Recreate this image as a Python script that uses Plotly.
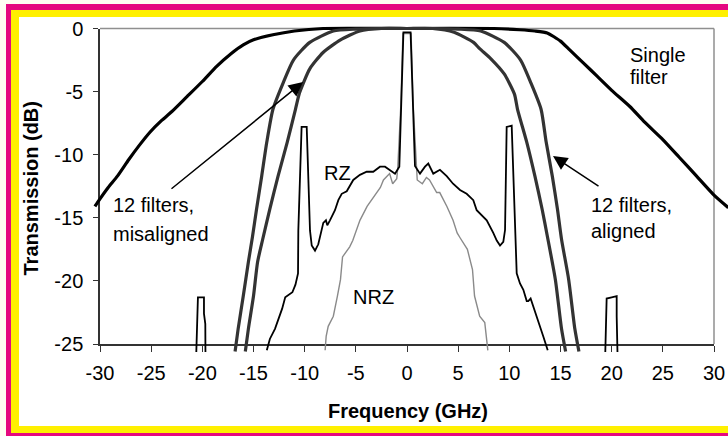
import plotly.graph_objects as go

# ---------------------------------------------------------------------------
# Data: transmission (dB) versus frequency offset (GHz)
# ---------------------------------------------------------------------------
x_ticks = [-30, -25, -20, -15, -10, -5, 0, 5, 10, 15, 20, 25, 30]
x_tick_labels = ["-30", "-25", "-20", "-15", "-10", "-5", "0",
                 "5", "10", "15", "20", "25", "30"]
y_ticks = [0, -5, -10, -15, -20, -25]
y_tick_labels = ["0", "-5", "-10", "-15", "-20", "-25"]

# Single filter response
single_f = [-30.5, -30.0, -29.2, -28.3, -27.2, -26.2, -25.1, -24.0, -23.0,
            -21.5, -20.0, -18.6, -17.2, -16.0, -15.0, -13.1, -11.0, -8.2,
            0.0, 8.5, 11.0, 12.5, 13.7, 15.0, 15.9, 17.2, 18.6, 20.0, 21.8,
            23.2, 25.0, 26.6, 28.3, 30.0, 31.4]
single_db = [-14.1, -13.5, -12.6, -11.7, -10.4, -9.3, -8.2, -7.3, -6.6,
             -5.4, -4.2, -3.0, -2.0, -1.3, -0.9, -0.5, -0.2, 0.0,
             0.0, 0.0, -0.1, -0.2, -0.35, -1.0, -1.7, -2.7, -3.8, -4.9, -6.2,
             -7.4, -8.8, -10.2, -11.7, -13.2, -14.2]

# 12 cascaded filters, aligned
aligned_f = [-16.8, -16.5, -16.0, -15.5, -15.1, -14.7, -14.2, -13.7, -13.1,
             -12.1, -11.1, -9.5, -7.2, -5.0, -2.5, 0.0,
             2.5, 5.0, 7.2, 9.5, 11.1, 12.1, 13.1, 13.6, 14.2, 14.7, 15.1,
             15.8, 16.4, 16.8]
aligned_db = [-25.6, -23.8, -21.2, -18.5, -16.5, -14.3, -11.7, -9.0, -6.4,
              -4.3, -2.5, -1.1, -0.2, -0.05, 0.0, 0.0,
              0.0, -0.05, -0.2, -1.1, -2.5, -4.3, -6.4, -9.0, -11.7, -14.3,
              -16.7, -19.9, -23.8, -25.6]

# 12 cascaded filters, misaligned
misaligned_f = [-15.8, -15.5, -15.0, -14.6, -14.1, -13.4, -12.6, -11.7, -10.9,
                -10.5, -9.5, -8.2, -6.5, -4.6, -2.5, 0.0,
                2.5, 4.6, 6.5, 7.1, 8.2, 9.5, 10.5, 10.8, 11.7, 12.5, 13.2,
                13.7, 14.5, 15.1, 15.5]
misaligned_db = [-25.6, -23.8, -21.2, -18.5, -16.7, -14.3, -11.7, -9.0, -6.4,
                 -5.1, -3.2, -1.9, -0.9, -0.2, 0.0, 0.0,
                 0.0, -0.3, -1.1, -1.6, -2.4, -3.6, -5.2, -6.4, -9.0, -11.7,
                 -14.3, -16.4, -19.9, -23.8, -25.6]

# RZ signal spectrum (None separates the isolated tones at +/-20 GHz)
rz_f = [-20.62, -20.53, -20.43, -19.84, -19.84, -19.71, -19.69, None,
        -13.7, -13.4, -12.9, -12.5, -12.2, -11.9, -11.6, -11.2, -10.9,
        -10.65, -10.62, -10.5, -10.45, -10.3, -9.8, -9.7, -9.55, -9.48,
        -9.31, -8.99, -8.67, -8.5, -8.34, -8.18, -7.92, -7.79, -7.53, -7.04,
        -6.71, -6.38, -5.89, -5.25, -4.6, -3.94, -3.3, -2.64, -2.15, -1.66,
        -1.17, -0.75, -0.55, -0.35, 0.35, 0.55, 0.78, 1.27, 1.76, 2.08, 2.57,
        3.22, 3.88, 4.5, 5.18, 5.83, 6.48, 6.81, 7.79, 8.43, 8.77, 9.09, 9.41,
        9.58, 9.68, 9.74, 10.23, 10.4, 10.55, 10.72, 11.04, 11.37, 11.7,
        11.85, 12.08, 12.34, 12.83, 13.32, 13.75, None,
        19.35, 19.42, 19.51, 20.0, 20.49, 20.49, 20.59]
rz_db = [-26.5, -23.4, -21.3, -21.3, -22.6, -23.4, -26.5, None,
         -25.5, -24.6, -23.8, -22.9, -22.2, -21.3, -21.1, -20.9, -20.3,
         -19.4, -16.0, -12.5, -10.4, -7.8, -7.8, -10.4, -14.0, -16.0,
         -17.2, -17.6, -17.1, -16.5, -16.0, -15.4, -15.2, -15.6, -15.2, -14.4,
         -13.6, -13.1, -12.9, -12.0, -11.6, -11.35, -11.35, -10.95, -10.95,
         -11.2, -11.5, -10.95, -6.0, -0.3, -0.3, -6.0, -10.9, -11.5, -10.95,
         -10.7, -11.5, -11.2, -11.7, -12.3, -12.8, -13.1, -13.6, -14.4, -15.2,
         -16.2, -16.8, -17.2, -16.9, -15.97, -12.0, -7.8, -7.7, -12.0, -15.97,
         -19.4, -20.2, -20.7, -21.6, -21.6, -21.4, -22.0, -23.3, -24.4, -25.5,
         None,
         -26.5, -23.4, -21.4, -21.3, -21.2, -22.8, -26.5]

# NRZ signal spectrum
nrz_f = [-8.0, -7.9, -7.7, -7.2, -6.8, -6.5, -6.3, -5.6, -5.3, -4.6, -3.9,
         -3.3, -2.6, -2.3, -1.7, -1.4, -1.0, -0.9, -0.6, -0.4, 0.4, 0.6, 0.9,
         1.0, 1.5, 1.9, 2.2, 2.9, 3.2, 3.9, 4.5, 4.9, 5.2, 5.9, 6.4, 6.6, 7.1,
         7.6, 7.9]
nrz_db = [-25.5, -24.4, -23.6, -22.8, -21.2, -19.9, -18.1, -17.3, -16.8,
          -15.2, -14.1, -13.4, -12.6, -12.0, -11.5, -12.3, -11.9, -11.0, -6.0,
          -0.4, -0.4, -6.0, -11.0, -12.0, -12.3, -11.8, -12.0, -13.0, -13.0,
          -14.1, -15.2, -16.2, -16.6, -17.5, -19.1, -21.2, -22.8, -23.3, -25.5]

# ---------------------------------------------------------------------------
# Page geometry (pixels)
# ---------------------------------------------------------------------------
W, H = 728, 436
BOX_L, BOX_R, BOX_T, BOX_B = 100, 714, 28.5, 344      # axes frame
CLIP_L, CLIP_R, CLIP_T, CLIP_B = 93, 728, 24, 352     # curve drawing area
FONT = "Arial, Liberation Sans, Helvetica, sans-serif"


def f_at(px):
    return -30 + (px - BOX_L) * 60.0 / (BOX_R - BOX_L)


def db_at(py):
    return -(py - BOX_T) * 25.0 / (BOX_B - BOX_T)


def xp(px):
    return px / W


def yp(py):
    return 1 - py / H


fig = go.Figure()

# keeps the visible axes alive
fig.add_trace(go.Scatter(x=[None], y=[None], xaxis="x", yaxis="y",
                         showlegend=False, hoverinfo="skip"))

curves = [
    (single_f, single_db, "#000000", 3.2, "Single filter", 0.5),
    (aligned_f, aligned_db, "#333333", 3.2, "12 filters, aligned", 0.6),
    (misaligned_f, misaligned_db, "#333333", 3.2, "12 filters, misaligned", 0.6),
    (nrz_f, nrz_db, "#8a8a8a", 1.4, "NRZ", None),
    (rz_f, rz_db, "#000000", 1.8, "RZ", None),
]
for fx_, fy_, col, wid, name, smooth in curves:
    line = dict(color=col, width=wid)
    if smooth is not None:
        line.update(shape="spline", smoothing=smooth)
    fig.add_trace(go.Scatter(x=fx_, y=fy_, mode="lines", name=name, line=line,
                             xaxis="x2", yaxis="y2", showlegend=False,
                             connectgaps=False))

axis_common = dict(
    showgrid=False, zeroline=False, showline=True, linecolor="#333333",
    linewidth=1.5, ticks="outside", tickcolor="#333333", tickwidth=1.2,
    tickfont=dict(family=FONT, size=20, color="#000000"), fixedrange=True,
    automargin=False,
)

fig.update_layout(
    width=W, height=H,
    margin=dict(l=0, r=0, t=0, b=0, pad=0, autoexpand=False),
    paper_bgcolor="#FFFEF2",
    plot_bgcolor="rgba(0,0,0,0)",
    showlegend=False,
    xaxis=dict(domain=[xp(BOX_L), xp(BOX_R)], range=[-30, 30], anchor="y",
               tickmode="array", tickvals=x_ticks, ticktext=x_tick_labels,
               ticklen=6, ticklabelstandoff=4, **axis_common),
    yaxis=dict(domain=[yp(BOX_B), yp(BOX_T)], range=[-25, 0], anchor="x",
               tickmode="array", tickvals=y_ticks, ticktext=y_tick_labels,
               ticklen=5, ticklabelstandoff=6, **axis_common),
    xaxis2=dict(domain=[xp(CLIP_L), xp(CLIP_R)],
                range=[f_at(CLIP_L), f_at(CLIP_R)], anchor="y2",
                visible=False, fixedrange=True, automargin=False),
    yaxis2=dict(domain=[yp(CLIP_B), yp(CLIP_T)],
                range=[db_at(CLIP_B), db_at(CLIP_T)], anchor="x2",
                visible=False, fixedrange=True, automargin=False),
)

# Frame: magenta and yellow border, white page, grey top/right box lines
shapes = [
    dict(type="rect", x0=xp(6), x1=xp(740), y0=yp(440), y1=yp(4),
         fillcolor="#E5097F", line_width=0),
    dict(type="rect", x0=xp(11), x1=xp(740), y0=yp(433), y1=yp(10),
         fillcolor="#FFF000", line_width=0),
    dict(type="rect", x0=xp(19), x1=xp(740), y0=yp(426), y1=yp(17),
         fillcolor="#FFFFFF", line_width=0),
    dict(type="line", x0=xp(BOX_L), x1=xp(BOX_R), y0=yp(BOX_T), y1=yp(BOX_T),
         line=dict(color="#8f8f8f", width=1.5)),
    dict(type="line", x0=xp(BOX_R), x1=xp(BOX_R), y0=yp(BOX_T), y1=yp(BOX_B),
         line=dict(color="#8f8f8f", width=1.5)),
]
for s in shapes:
    s.update(xref="paper", yref="paper", layer="below")
fig.update_layout(shapes=shapes)

# Labels
labels = [
    ("Single", 628, 54.5),
    ("filter", 628, 77.5),
    ("12 filters,", 111, 204.5),
    ("misaligned", 111, 233.5),
    ("12 filters,", 589, 204.5),
    ("aligned", 589, 231.5),
    ("RZ", 322, 173),
    ("NRZ", 351, 297),
]
annotations = []
for txt, px, py in labels:
    annotations.append(dict(
        text=txt, x=xp(px), y=yp(py), xref="paper", yref="paper",
        xanchor="left", yanchor="middle", showarrow=False,
        font=dict(family=FONT, size=20, color="#000000")))

# axis titles
annotations.append(dict(
    text="<b>Frequency (GHz)</b>", x=xp(407.5), y=yp(411), xref="paper",
    yref="paper", xanchor="center", yanchor="middle", showarrow=False,
    font=dict(family=FONT, size=20, color="#000000")))
annotations.append(dict(
    text="<b>Transmission (dB)</b>", x=xp(30), y=yp(188.5), xref="paper",
    yref="paper", xanchor="center", yanchor="middle", showarrow=False,
    textangle=-90, font=dict(family=FONT, size=20, color="#000000")))

# pointer arrows
for tip, tail in [((303, 82), (170, 190)), ((553, 156), (600, 187))]:
    annotations.append(dict(
        text="", x=xp(tip[0]), y=yp(tip[1]), xref="paper", yref="paper",
        ax=tail[0] - tip[0], ay=tail[1] - tip[1], axref="pixel", ayref="pixel",
        showarrow=True, arrowhead=2, arrowsize=1.9, arrowwidth=1.5,
        arrowcolor="#000000"))

fig.update_layout(annotations=annotations)

fig.write_html("out.html")
